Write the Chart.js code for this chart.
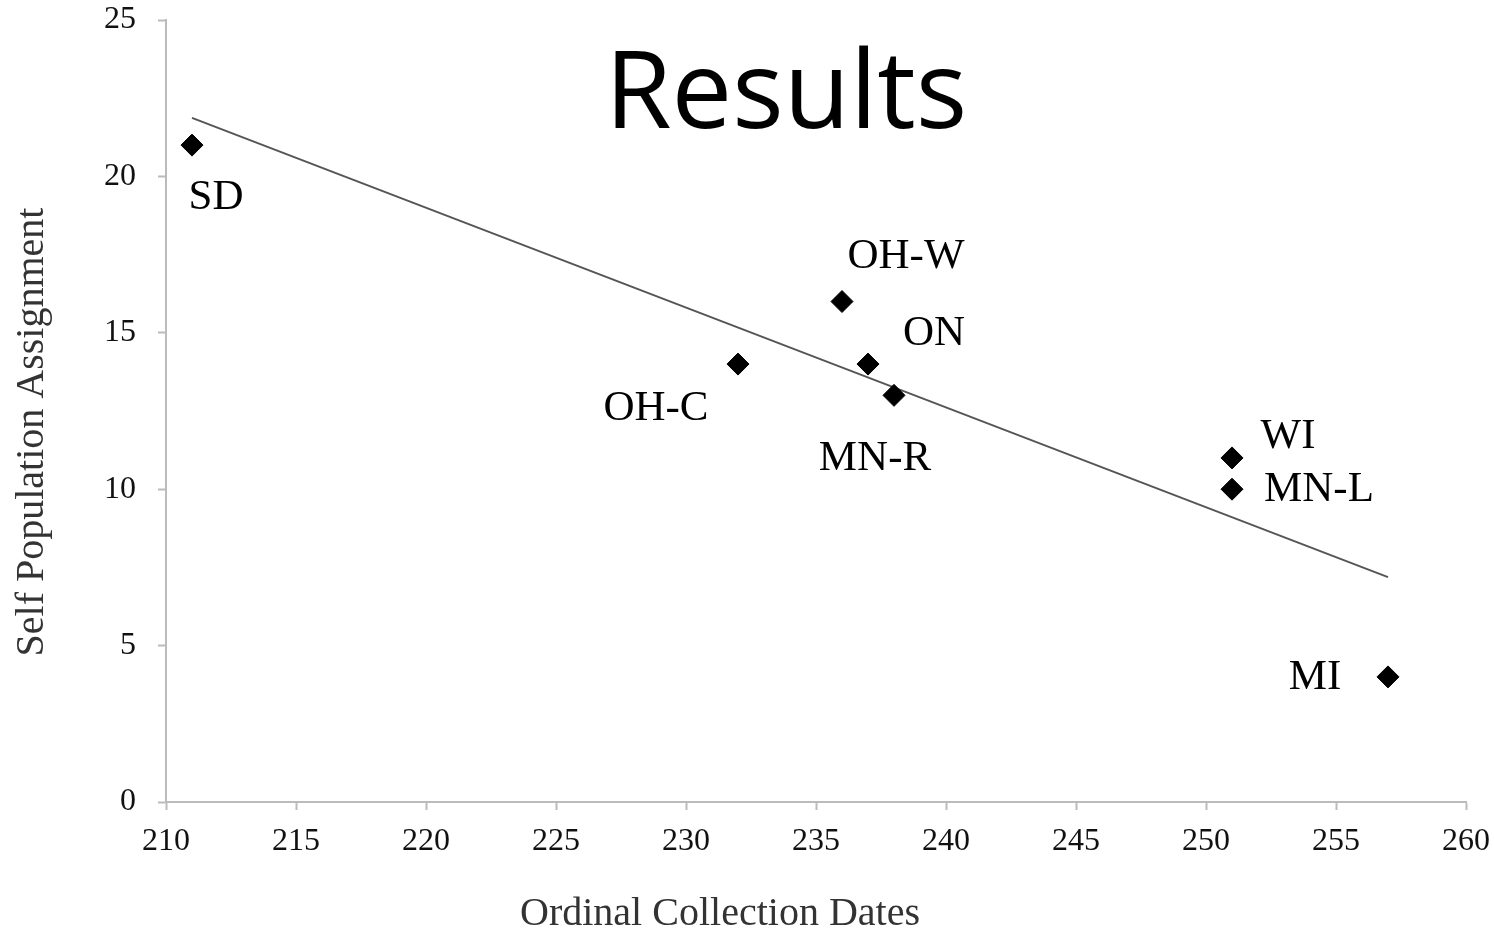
<!DOCTYPE html>
<html>
<head>
<meta charset="utf-8">
<script src="https://cdn.jsdelivr.net/npm/chart.js@4.4.1/dist/chart.umd.min.js"></script>
<style>
  html, body { margin: 0; padding: 0; background: #fff; }
  #wrap { width: 1494px; height: 933px; }
</style>
</head>
<body>
<div id="wrap"><canvas id="myChart" width="1494" height="933"></canvas></div>
<script>
// Datos
const sites = ['SD', 'OH-C', 'OH-W', 'ON', 'MN-R', 'WI', 'MN-L', 'MI'];
const dates = [211, 232, 236, 237, 238, 251, 251, 257];
const selfAssign = [21, 14, 16, 14, 13, 11, 10, 4];

// linea de tendencia (extremos)
const trendX = [211, 257];
const trendY = [21.87, 7.19];

const xMin = 210, xMax = 260, xStep = 5;
const yMin = 0, yMax = 25, yStep = 5;

// desplazamiento de cada etiqueta respecto a su punto (px)
const labelOffsets = [[24, 53], [-82, 45], [64, -45], [66, -30], [-19, 63], [56, -21], [87, 1], [-73, 1]];

const serif = "'Liberation Serif', 'Times New Roman', serif";

const pointLabels = {
  id: 'pointLabels',
  afterDatasetsDraw(chart) {
    const ctx = chart.ctx;
    const meta = chart.getDatasetMeta(0);
    ctx.save();
    ctx.font = '43px ' + serif;
    ctx.fillStyle = '#000';
    ctx.textAlign = 'center';
    ctx.textBaseline = 'middle';
    meta.data.forEach((pt, i) => {
      ctx.fillText(sites[i], pt.x + labelOffsets[i][0], pt.y + labelOffsets[i][1]);
    });
    ctx.restore();
  }
};

// titulos (el del eje x no esta centrado en el area del grafico)
const textos = {
  id: 'textos',
  afterDraw(chart) {
    const ctx = chart.ctx;
    ctx.save();
    ctx.fillStyle = '#000';
    ctx.textAlign = 'center';
    ctx.font = "108px 'Open Sans', 'Noto Sans', sans-serif";
    ctx.textBaseline = 'alphabetic';
    ctx.fillText('Results', 786, 128);

    ctx.fillStyle = '#333';
    ctx.font = '40px ' + serif;
    ctx.textBaseline = 'middle';
    ctx.fillText('Ordinal Collection Dates', 720, 914);

    ctx.translate(32, 432);
    ctx.rotate(-Math.PI / 2);
    ctx.fillText('Self Population Assignment', 0, 0);
    ctx.restore();
  }
};

const ctx = document.getElementById('myChart').getContext('2d');
const myChart = new Chart(ctx, {
  type: 'scatter',
  data: {
    datasets: [
      {
        label: 'Sitios',
        data: dates.map((d, i) => ({ x: d, y: selfAssign[i] })),
        pointStyle: 'rectRot',
        pointRadius: 11,
        pointHoverRadius: 11,
        backgroundColor: '#000',
        borderColor: '#000',
        borderWidth: 1
      },
      {
        label: 'Tendencia',
        type: 'line',
        data: trendX.map((d, i) => ({ x: d, y: trendY[i] })),
        borderColor: '#555',
        borderWidth: 2,
        pointRadius: 0,
        fill: false
      }
    ]
  },
  options: {
    responsive: false,
    animation: false,
    layout: { padding: { top: 20, right: 28, left: 0, bottom: 0 } },
    plugins: {
      legend: { display: false },
      tooltip: { enabled: false }
    },
    scales: {
      x: {
        type: 'linear',
        min: xMin,
        max: xMax,
        afterFit: s => { s.height = 131; s.paddingLeft = 0; s.paddingRight = 0; },
        ticks: {
          stepSize: xStep,
          padding: 12,
          color: '#111',
          font: { family: serif, size: 32 }
        },
        grid: {
          drawOnChartArea: false,
          drawTicks: true,
          tickLength: 8,
          tickColor: '#bbb',
          tickWidth: 2
        },
        border: { color: '#bbb', width: 2 }
      },
      y: {
        min: yMin,
        max: yMax,
        afterFit: s => { s.width = 166; s.paddingTop = 0; s.paddingBottom = 0; },
        ticks: {
          stepSize: yStep,
          padding: 22,
          color: '#111',
          font: { family: serif, size: 32 }
        },
        grid: {
          drawOnChartArea: false,
          drawTicks: true,
          tickLength: 8,
          tickColor: '#bbb',
          tickWidth: 2
        },
        border: { color: '#bbb', width: 2 }
      }
    }
  },
  plugins: [pointLabels, textos]
});
</script>
</body>
</html>
